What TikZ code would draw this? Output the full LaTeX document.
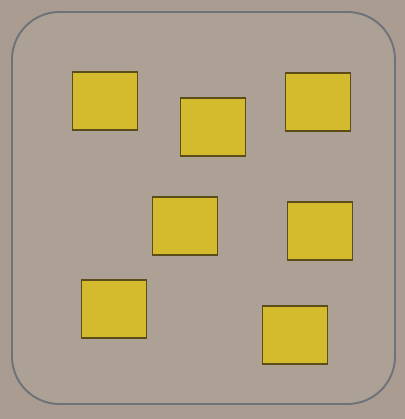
\documentclass[tikz,border=0pt]{standalone}
\usepackage{xcolor}
\usetikzlibrary{positioning}
\definecolor{PaperA}{HTML}{AB9C91}
\definecolor{PaperB}{HTML}{ADA095}
\definecolor{FrameA}{HTML}{6D7379}
\definecolor{TileA}{HTML}{5C4C1A}
\definecolor{TileB}{HTML}{D3BB2D}
\tikzset{
  tile/.style={draw=TileA, fill=TileB, line width=1.1pt,
               minimum width=1.3cm, minimum height=1.16cm,
               inner sep=0pt},
  tray/.style={draw=FrameA, fill=PaperB, line width=1.1pt,
               rounded corners=0.95cm}
}

\begin{document}
\begin{tikzpicture}[x=0.02cm, y=-0.02cm]

  % ----- Paper background -----
  \fill[PaperA] (0,0) rectangle (405,419);
  \useasboundingbox (0,0) rectangle (405,419);

  % ----- Rounded tray -----
  \draw[tray] (12,12) rectangle (395,404);

  % ----- Top row -----
  \node[tile] (tileA) at (105,101) {};
  \node[tile] (tileB) at (213,127) {};
  \node[tile] (tileC) at (318,102) {};

  % ----- Middle row -----
  \node[tile] (tileD) at (185,226) {};
  \node[tile] (tileE) at (320,231) {};

  % ----- Bottom row -----
  \node[tile] (tileF) at (114,309) {};
  \node[tile] (tileG) at (295,335) {};

\end{tikzpicture}
\end{document}
